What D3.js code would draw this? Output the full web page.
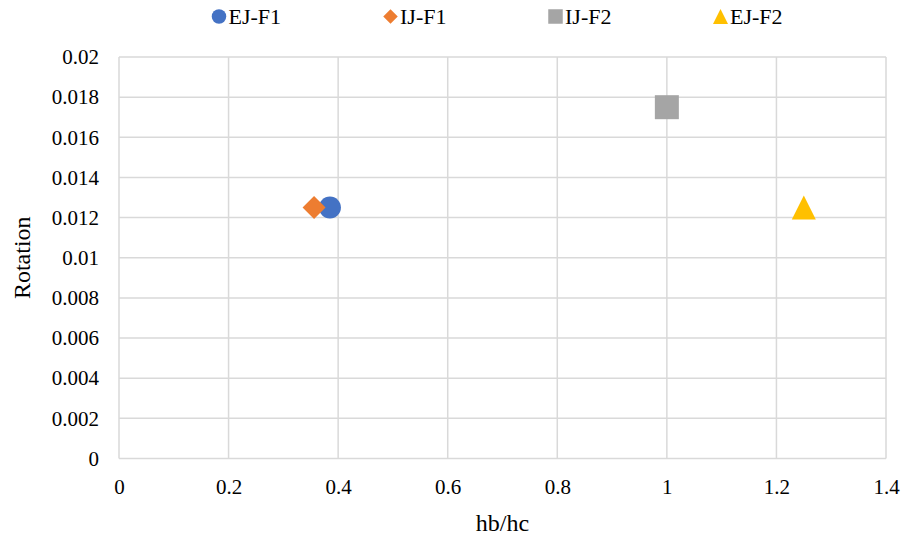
<!DOCTYPE html>
<html>
<head>
<meta charset="utf-8">
<script src="https://cdn.jsdelivr.net/npm/d3@7"></script>
<style>
  html, body { margin: 0; padding: 0; background: #fff; }
  svg text { font-family: "Liberation Serif", "Times New Roman", "DejaVu Serif", serif !important; fill: #000; }
</style>
</head>
<body>
<svg id="chart" width="904" height="537"></svg>
<script>
// Series: name, hb/hc ratio, rotation
const seriesNames = ["EJ-F1", "IJ-F1", "IJ-F2", "EJ-F2"];
const xValues = [0.385, 0.356, 1.0, 1.25];
const yValues = [0.0125, 0.0125, 0.0175, 0.0125];
const colors = ["#4472C4", "#ED7D31", "#A5A5A5", "#FFC000"];
const markerKinds = ["circle", "diamond", "square", "triangle"];

const xTicks = [0, 0.2, 0.4, 0.6, 0.8, 1, 1.2, 1.4];
const yTicks = [0, 0.002, 0.004, 0.006, 0.008, 0.01, 0.012, 0.014, 0.016, 0.018, 0.02];

const svg = d3.select("#chart");
const plot = { left: 119, right: 886, top: 57, bottom: 458.5 };

const x = d3.scaleLinear().domain([0, 1.4]).range([plot.left, plot.right]);
const y = d3.scaleLinear().domain([0, 0.02]).range([plot.bottom, plot.top]);

// Marker outline for a given kind, centred on (0,0), fitting a box of side s
function markerPath(kind, s) {
  const h = s / 2;
  const p = d3.path();
  if (kind === "circle") {
    p.arc(0, 0, h, 0, 2 * Math.PI);
  } else if (kind === "diamond") {
    p.moveTo(0, -h); p.lineTo(h, 0); p.lineTo(0, h); p.lineTo(-h, 0); p.closePath();
  } else if (kind === "square") {
    p.rect(-h, -h, s, s);
  } else {
    p.moveTo(0, -h); p.lineTo(h, h); p.lineTo(-h, h); p.closePath();
  }
  return p.toString();
}

// Gridlines
const grid = svg.append("g");
grid.selectAll(".vg").data(xTicks).enter().append("line")
  .attr("x1", d => x(d)).attr("x2", d => x(d))
  .attr("y1", plot.top).attr("y2", plot.bottom)
  .attr("stroke", "#D9D9D9").attr("stroke-width", 1.5);
grid.selectAll(".hg").data(yTicks).enter().append("line")
  .attr("x1", plot.left).attr("x2", plot.right)
  .attr("y1", d => y(d)).attr("y2", d => y(d))
  .attr("stroke", "#D9D9D9").attr("stroke-width", 1.5);

// Axis tick labels
const xAxis = d3.axisBottom(x).tickValues(xTicks).tickSize(0).tickPadding(21)
  .tickFormat(d => String(+d.toFixed(1)));
svg.append("g").attr("transform", `translate(0,${plot.bottom})`).call(xAxis)
  .call(g => g.select(".domain").remove())
  .call(g => g.selectAll("text").attr("font-size", 21));

const yAxis = d3.axisLeft(y).tickValues(yTicks).tickSize(0).tickPadding(20)
  .tickFormat(d => String(+d.toFixed(3)));
svg.append("g").attr("transform", `translate(${plot.left},0)`).call(yAxis)
  .call(g => g.select(".domain").remove())
  .call(g => g.selectAll("text").attr("font-size", 21));

// Axis titles
svg.append("text").attr("x", (plot.left + plot.right) / 2).attr("y", 531)
  .attr("text-anchor", "middle").attr("font-size", 24).text("hb/hc");
svg.append("text").attr("transform", `translate(30,${(plot.top + plot.bottom) / 2}) rotate(-90)`)
  .attr("text-anchor", "middle").attr("font-size", 24).text("Rotation");

// Markers
const markerSizes = [22, 23, 24, 24];
svg.append("g").selectAll("path").data(seriesNames).enter().append("path")
  .attr("transform", (d, i) => `translate(${x(xValues[i])},${y(yValues[i])})`)
  .attr("d", (d, i) => markerPath(markerKinds[i], markerSizes[i]))
  .attr("fill", (d, i) => colors[i]);

// Legend
const legendX = [219, 390.5, 555.5, 720.5];
const legend = svg.append("g");
seriesNames.forEach((name, i) => {
  legend.append("path")
    .attr("transform", `translate(${legendX[i]},16.5)`)
    .attr("d", markerPath(markerKinds[i], i === 3 ? 15 : 14.5))
    .attr("fill", colors[i]);
  legend.append("text").attr("x", legendX[i] + 9.5).attr("y", 24)
    .attr("font-size", 22).text(name);
});
</script>
</body>
</html>
